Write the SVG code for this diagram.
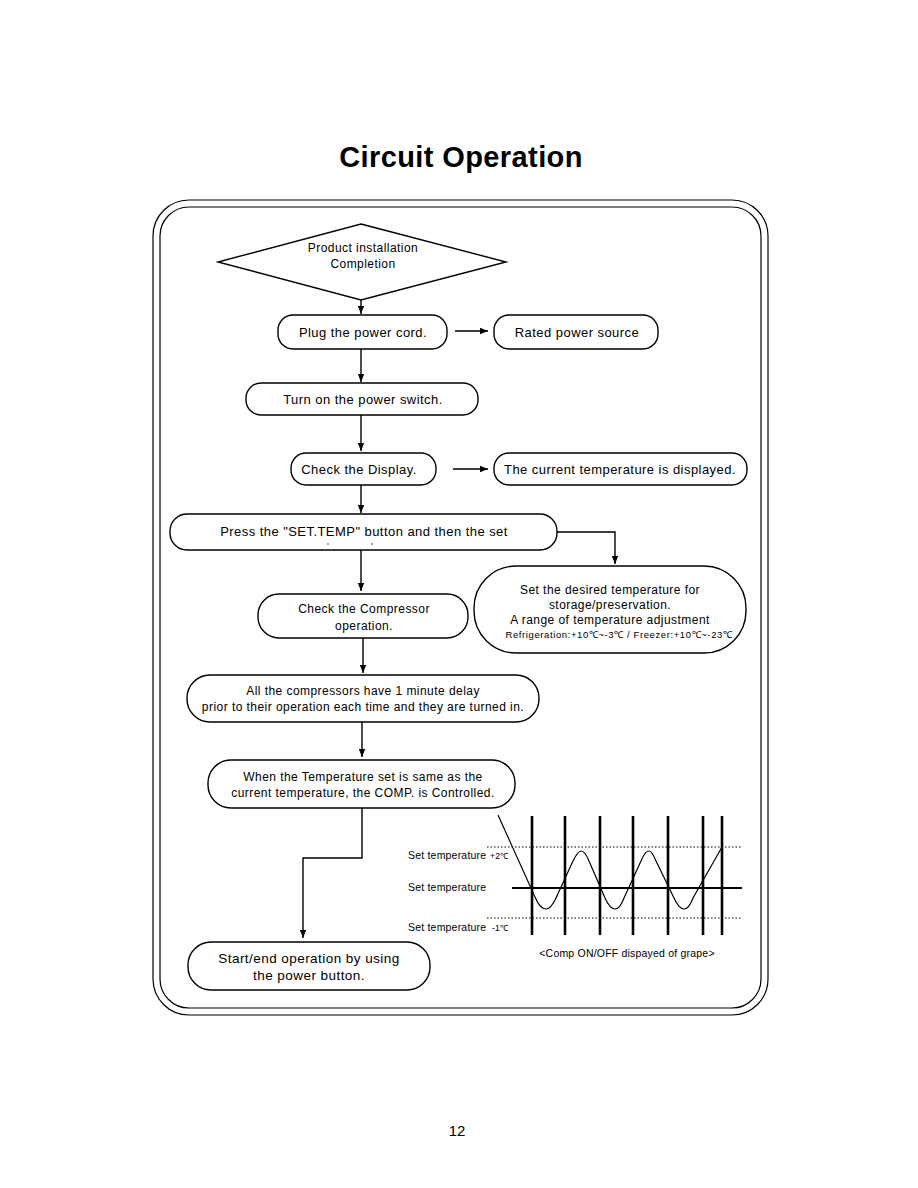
<svg xmlns="http://www.w3.org/2000/svg" width="918" height="1188" viewBox="0 0 918 1188">
<defs>
<marker id="ah" viewBox="0 0 10 10" refX="10" refY="5" markerWidth="8" markerHeight="8" markerUnits="userSpaceOnUse" orient="auto">
<path d="M0,1 L10,5 L0,9 Z" fill="#000"/>
</marker>
<style>
.box{fill:#fff;stroke:#000;stroke-width:1.4}
.t{font-family:"Liberation Sans",Arial,sans-serif;fill:#000;text-anchor:middle;letter-spacing:0.45px}
.g{font-family:"Liberation Sans",Arial,sans-serif;fill:#000;letter-spacing:0.2px}
.c{fill:none;stroke:#000;stroke-width:1.4;marker-end:url(#ah)}
.frame{fill:none;stroke:#000;stroke-width:1.2}
.dot{stroke:#000;stroke-width:1;stroke-dasharray:1.5,2;fill:none}
.vb{stroke:#000;stroke-width:2.6}
</style>
</defs>
<rect width="918" height="1188" fill="#fff"/>
<text x="461" y="167" font-family="Liberation Sans,Arial,sans-serif" font-size="29" font-weight="bold" text-anchor="middle" letter-spacing="0.4">Circuit Operation</text>
<g id="frame">
<rect class="frame" x="153" y="200" width="615" height="815" rx="36"/>
<rect class="frame" x="160" y="207" width="601" height="801" rx="29"/>
</g>
<g id="connectors">
<line class="c" x1="361" y1="300" x2="361" y2="314"/>
<line class="c" x1="455" y1="331" x2="488" y2="331"/>
<line class="c" x1="361" y1="349" x2="361" y2="382"/>
<line class="c" x1="361" y1="415" x2="361" y2="451"/>
<line class="c" x1="453" y1="469" x2="488" y2="469"/>
<line class="c" x1="361" y1="485" x2="361" y2="513"/>
<polyline class="c" points="557,532 615,532 615,564"/>
<line class="c" x1="361" y1="550" x2="361" y2="591"/>
<line class="c" x1="363" y1="613" x2="363" y2="673"/>
<line class="c" x1="362" y1="722" x2="362" y2="757"/>
<polyline class="c" points="362,808 362,858 303,858 303,938"/>
</g>
<g id="n1">
<polygon class="box" points="361,224 506,262 361,300 218,262"/>
<text class="t" x="363" y="252" font-size="12">Product installation</text>
<text class="t" x="363" y="268" font-size="12">Completion</text>
</g>
<g id="n2">
<rect class="box" x="278" y="315" width="169" height="34" rx="15"/>
<text class="t" x="363" y="337" font-size="13">Plug the power cord.</text>
</g>
<g id="n3">
<rect class="box" x="494" y="315" width="164" height="34" rx="15"/>
<text class="t" x="577" y="337" font-size="13">Rated power source</text>
</g>
<g id="n4">
<rect class="box" x="246" y="383" width="232" height="32" rx="15"/>
<text class="t" x="363" y="404" font-size="13">Turn on the power switch.</text>
</g>
<g id="n5">
<rect class="box" x="291" y="453" width="145" height="32" rx="15"/>
<text class="t" x="359" y="474" font-size="13">Check the Display.</text>
</g>
<g id="n6">
<rect class="box" x="494" y="453" width="253" height="32" rx="15"/>
<text class="t" x="620" y="474" font-size="13">The current temperature is displayed.</text>
</g>
<g id="n7">
<rect class="box" x="170" y="514" width="387" height="36" rx="17"/>
<text class="t" x="364" y="536" font-size="13">Press the "SET.TEMP" button and then the set</text>
<circle cx="328" cy="544" r="0.7" fill="#000"/>
<circle cx="372" cy="544" r="0.7" fill="#000"/>
</g>
<g id="n8">
<rect class="box" x="258" y="594" width="210" height="44" rx="21"/>
<text class="t" x="364" y="613" font-size="12">Check the Compressor</text>
<text class="t" x="364" y="630" font-size="12">operation.</text>
</g>
<g id="n9">
<rect class="box" x="474" y="566" width="272" height="87" rx="42"/>
<text class="t" x="610" y="594" font-size="12">Set the desired temperature for</text>
<text class="t" x="610" y="609" font-size="12">storage/preservation.</text>
<text class="t" x="610" y="624" font-size="12">A range of temperature adjustment</text>
<text class="t" x="619" y="638" font-size="9.5" style="letter-spacing:0.6px">Refrigeration:+10℃~-3℃ / Freezer:+10℃~-23℃</text>
</g>
<g id="n10">
<rect class="box" x="187" y="675" width="352" height="47" rx="23"/>
<text class="t" x="363" y="695" font-size="12">All the compressors have 1 minute delay</text>
<text class="t" x="363" y="711" font-size="12">prior to their operation each time and they are turned in.</text>
</g>
<g id="n11">
<rect class="box" x="208" y="760" width="307" height="48" rx="23"/>
<text class="t" x="363" y="781" font-size="12">When the Temperature set is same as the</text>
<text class="t" x="363" y="797" font-size="12">current temperature, the COMP. is Controlled.</text>
</g>
<g id="n12">
<rect class="box" x="188" y="942" width="242" height="48" rx="23"/>
<text class="t" x="309" y="963" font-size="13.5">Start/end operation by using</text>
<text class="t" x="309" y="980" font-size="13.5">the power button.</text>
</g>
<g id="graph">
<line class="dot" x1="487" y1="847" x2="742" y2="847"/>
<line class="dot" x1="487" y1="918" x2="742" y2="918"/>
<line x1="512" y1="888" x2="742" y2="888" stroke="#000" stroke-width="2"/>
<line class="vb" x1="532" y1="816" x2="532" y2="935"/>
<line class="vb" x1="565" y1="816" x2="565" y2="935"/>
<line class="vb" x1="600" y1="816" x2="600" y2="935"/>
<line class="vb" x1="633" y1="816" x2="633" y2="935"/>
<line class="vb" x1="668" y1="816" x2="668" y2="935"/>
<line class="vb" x1="703" y1="816" x2="703" y2="935"/>
<line class="vb" x1="722" y1="816" x2="722" y2="935"/>
<path d="M498,815 L535,897 Q540,909 546,909 Q551,909 556,898 L573,861 Q578,851 581,851 Q585,851 589,861 L605,898 Q610,909 615,909 Q620,909 624,898 L641,861 Q645,851 649,851 Q652,851 656,861 L674,898 Q679,909 684,909 Q689,909 693,898 L722,847" fill="none" stroke="#000" stroke-width="1.2"/>
<text class="g" x="408" y="859" font-size="10.5">Set temperature</text>
<text class="g" x="490" y="859" font-size="8.5">+2℃</text>
<text class="g" x="408" y="891" font-size="10.5">Set temperature</text>
<text class="g" x="408" y="931" font-size="10.5">Set temperature</text>
<text class="g" x="492" y="931" font-size="8.5">-1℃</text>
<text class="t" x="627" y="957" font-size="10.5" style="letter-spacing:0.2px">&lt;Comp ON/OFF dispayed of grape&gt;</text>
</g>
<text x="457" y="1136" font-family="Liberation Sans,Arial,sans-serif" font-size="15" text-anchor="middle">12</text>
</svg>
